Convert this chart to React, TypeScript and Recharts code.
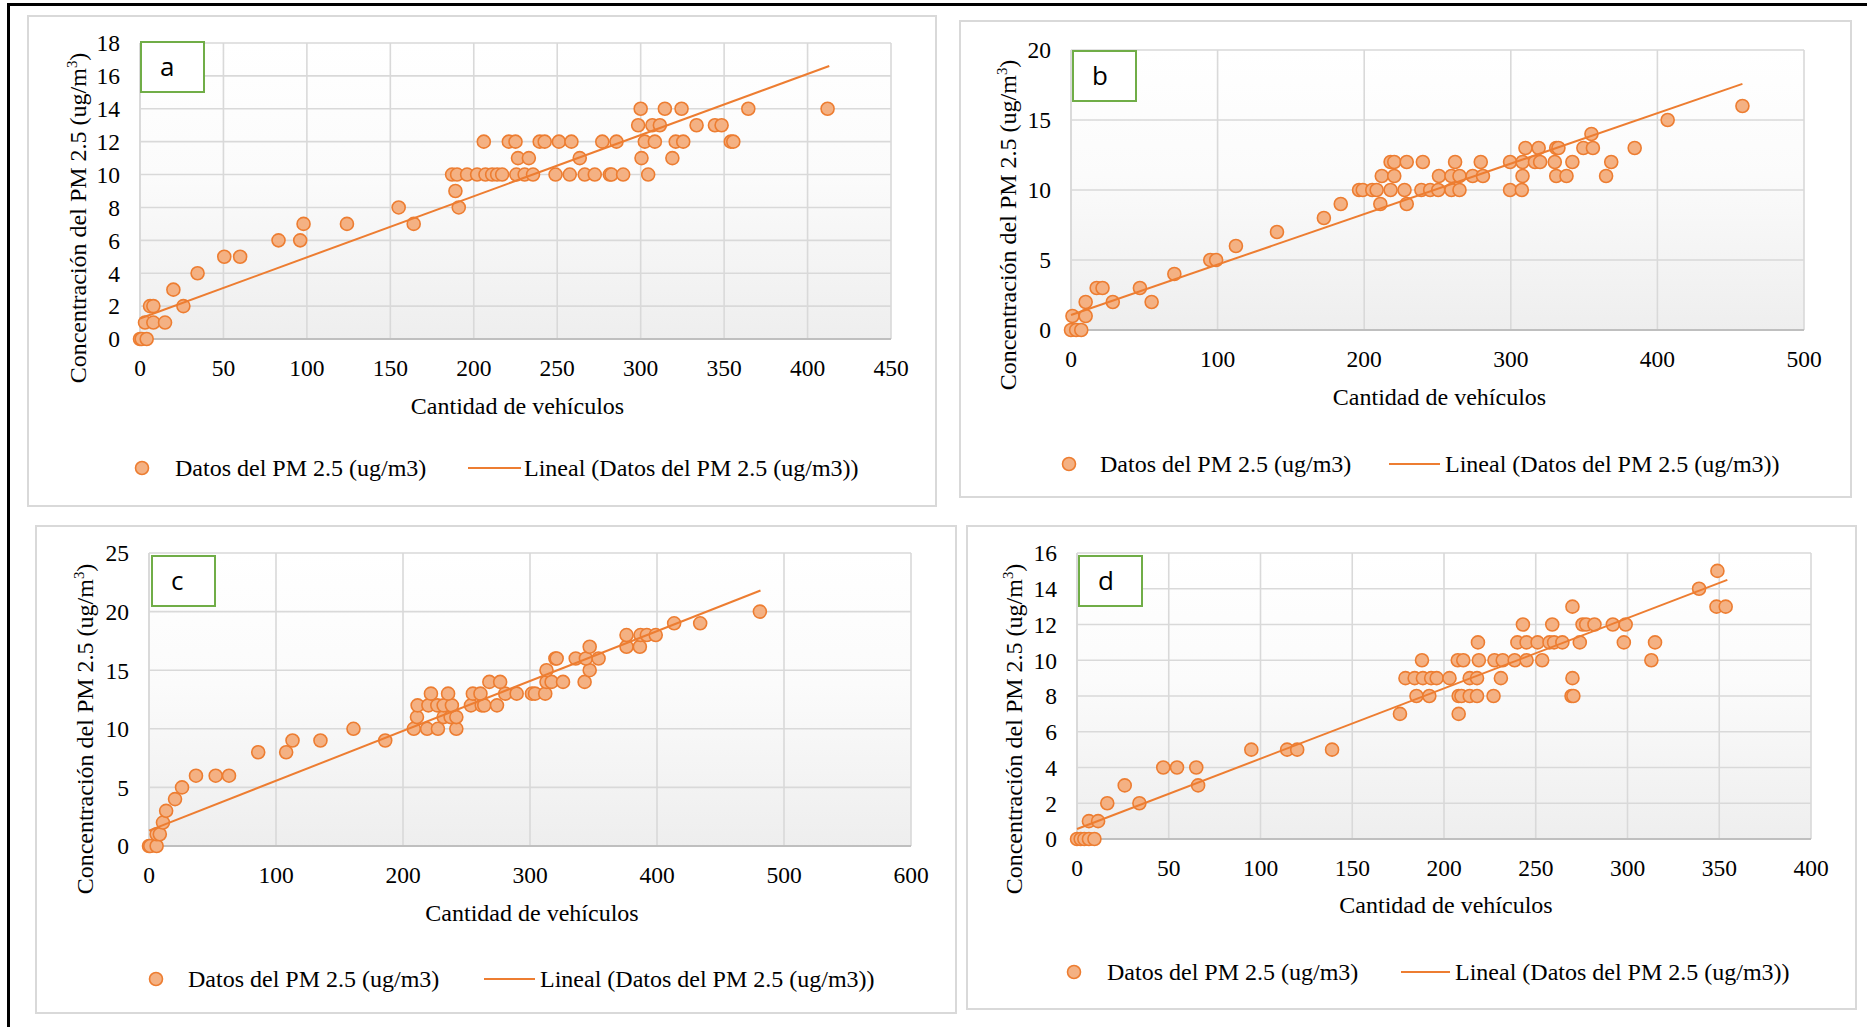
import { ScatterChart, Scatter, XAxis, YAxis, CartesianGrid } from 'recharts';

// ---- datos (x = vehículos, y = PM 2.5) ----

// panel a
const vehiculosA = [
  0, 1, 4,
  3, 8, 15,
  6, 8, 26,
  20, 34.5, 50.5, 60, 83, 96,
  98, 124, 164, 155, 191, 189,
  187, 190, 196, 202, 207, 211, 214, 217, 225.5, 230.5, 235.5, 249, 257.5, 266.5, 272.5, 281.5, 282.5, 289.5, 304.5,
  226.5, 233, 263.5, 300.5, 319,
  206, 221, 225, 239.5, 242.5, 251, 258.5, 277, 285.5, 302.5, 308.5, 321, 325.5, 354, 355.5,
  298.5, 307, 311.5, 333.5, 344.5, 348.5,
  300, 314.5, 324.5, 364.5, 412,
];
const pmA = [
  0, 0, 0,
  1, 1, 1,
  2, 2, 2,
  3, 4, 5, 5, 6, 6,
  7, 7, 7, 8, 8, 9,
  10, 10, 10, 10, 10, 10, 10, 10, 10, 10, 10, 10, 10, 10, 10, 10, 10, 10, 10,
  11, 11, 11, 11, 11,
  12, 12, 12, 12, 12, 12, 12, 12, 12, 12, 12, 12, 12, 12, 12,
  13, 13, 13, 13, 13, 13,
  14, 14, 14, 14, 14,
];
const tendXA = [0, 413];
const tendYA = [1.25, 16.6];
const xTicksA = [0, 50, 100, 150, 200, 250, 300, 350, 400, 450];
const yTicksA = [0, 2, 4, 6, 8, 10, 12, 14, 16, 18];

// panel b
const vehiculosB = [
  0, 3.5, 7,
  1, 10,
  10, 28.5, 55,
  17.5, 21.5, 47,
  70.5, 95, 99, 112.5, 140.5, 172.5,
  184, 211, 229,
  196.5, 199, 205.5, 208.5, 218, 227.5, 239, 245, 250.5, 259.5, 265, 299.5, 307.5,
  212, 220.5, 251, 259.5, 265, 274, 281, 308, 331, 338, 365,
  218, 220.5, 229, 240, 262, 279.5, 299.5, 308, 316.5, 320, 330, 342, 368.5,
  310, 319, 331, 332.5, 349.5, 356, 384.5,
  355, 407, 458,
];
const pmB = [
  0, 0, 0,
  1, 1,
  2, 2, 2,
  3, 3, 3,
  4, 5, 5, 6, 7, 8,
  9, 9, 9,
  10, 10, 10, 10, 10, 10, 10, 10, 10, 10, 10, 10, 10,
  11, 11, 11, 11, 11, 11, 11, 11, 11, 11, 11,
  12, 12, 12, 12, 12, 12, 12, 12, 12, 12, 12, 12, 12,
  13, 13, 13, 13, 13, 13, 13,
  14, 15, 16,
];
const tendXB = [0, 458];
const tendYB = [1.07, 17.58];
const xTicksB = [0, 100, 200, 300, 400, 500];
const yTicksB = [0, 5, 10, 15, 20];

// panel c
const vehiculosC = [
  0, 1, 6,
  6, 8.5, 11, 13.5, 20.5, 26,
  37, 52.5, 63, 86, 108,
  113, 135, 186,
  161, 208.5, 219, 227.5, 242,
  211, 232, 237.5, 242,
  211.5, 220, 227, 232, 238.5, 253.5, 262, 264, 274,
  222, 235.5, 255, 261, 280.5, 289.5, 301.5, 304, 312,
  268, 276.5, 313, 317, 326, 343,
  313, 347,
  320, 321, 336, 344, 354,
  347, 376, 386.5,
  376, 387, 392, 399,
  413.5, 434, 481,
];
const pmC = [
  0, 0, 0,
  1, 1, 2, 3, 4, 5,
  6, 6, 6, 8, 8,
  9, 9, 9,
  10, 10, 10, 10, 10,
  11, 11, 11, 11,
  12, 12, 12, 12, 12, 12, 12, 12, 12,
  13, 13, 13, 13, 13, 13, 13, 13, 13,
  14, 14, 14, 14, 14, 14,
  15, 15,
  16, 16, 16, 16, 16,
  17, 17, 17,
  18, 18, 18, 18,
  19, 19, 20,
];
const tendXC = [0, 481.5];
const tendYC = [1.31, 21.8];
const xTicksC = [0, 100, 200, 300, 400, 500, 600];
const yTicksC = [0, 5, 10, 15, 20, 25];

// panel d
const vehiculosD = [
  0, 2, 4, 6.5, 9.5,
  6.5, 11.5, 16.5, 34, 26, 66,
  47, 54.5, 65,
  95, 114.5, 120, 139,
  176, 208,
  185, 192, 208, 209.5, 214, 218, 227, 269.5, 270.5,
  179, 184, 188.5, 193, 196, 203, 214, 218, 231, 270,
  188, 207.5, 210.5, 219, 227.5, 232, 238.5, 245, 253.5, 313,
  218.5, 240, 245, 251, 257.5, 260, 264.5, 274, 298, 315,
  243, 259, 275.5, 277.5, 282, 292, 299,
  270, 348.5, 353.5,
  339, 349,
];
const pmD = [
  0, 0, 0, 0, 0,
  1, 1, 2, 2, 3, 3,
  4, 4, 4,
  5, 5, 5, 5,
  7, 7,
  8, 8, 8, 8, 8, 8, 8, 8, 8,
  9, 9, 9, 9, 9, 9, 9, 9, 9, 9,
  10, 10, 10, 10, 10, 10, 10, 10, 10, 10,
  11, 11, 11, 11, 11, 11, 11, 11, 11, 11,
  12, 12, 12, 12, 12, 12, 12,
  13, 13, 13,
  14, 15,
];
const tendXD = [0, 354.4];
const tendYD = [0.56, 14.5];
const xTicksD = [0, 50, 100, 150, 200, 250, 300, 350, 400];
const yTicksD = [0, 2, 4, 6, 8, 10, 12, 14, 16];

const SERIE = 'Datos del PM 2.5 (ug/m3)';
const TENDENCIA = 'Lineal (Datos del PM 2.5 (ug/m3))';

const ORANGE = '#ED7D31';
const ORANGE_FILL = '#F4B183';
const GRID = '#d9d9d9';
const SERIF = '"Liberation Serif", "Times New Roman", serif';

const zip = (xs: number[], ys: number[]) => xs.map((x, i) => ({ x, y: ys[i] }));

interface PanelProps {
  id: string;
  letter: string;
  xs: number[];
  ys: number[];
  tx: number[];
  ty: number[];
  xTicks: number[];
  yTicks: number[];
  box: { left: number; top: number; width: number; height: number };
  plot: { left: number; top: number; right: number; bottom: number };
  yTitle: { cx: number; cy: number };
  xTitleY: number;
  legend: { marker: number; cy: number; text: number; line0: number; line1: number; text2: number };
  tag: { left: number; top: number };
}

const dot = (p: any) => (
  <circle cx={p.cx} cy={p.cy} r={6.5} fill={ORANGE_FILL} stroke={ORANGE} strokeWidth={1.6} />
);

const Panel = ({ id, letter, xs, ys, tx, ty, xTicks, yTicks, box, plot, yTitle, xTitleY, legend, tag }: PanelProps) => {
  const points = zip(xs, ys);
  const trend = zip(tx, ty);
  const xMax = xTicks[xTicks.length - 1];
  const yMax = yTicks[yTicks.length - 1];
  const axisH = 40;

  return (
    <div
      style={{
        position: 'absolute',
        left: box.left,
        top: box.top,
        width: box.width,
        height: box.height,
        border: `2px solid ${GRID}`,
        boxSizing: 'border-box',
        background: '#fff',
      }}
    >
      <div style={{ position: 'absolute', left: -2, top: -2 }}>
        <ScatterChart
          width={box.width}
          height={box.height}
          margin={{
            top: plot.top,
            right: box.width - plot.right,
            bottom: box.height - plot.bottom - axisH,
            left: 0,
          }}
        >
          <defs>
            <linearGradient id={`fondo-${id}`} x1="0" y1="0" x2="0" y2="1">
              <stop offset="0%" stopColor="#ffffff" />
              <stop offset="45%" stopColor="#fbfbfb" />
              <stop offset="100%" stopColor="#eeeeee" />
            </linearGradient>
          </defs>
          <CartesianGrid stroke={GRID} strokeWidth={1.6} fill={`url(#fondo-${id})`} fillOpacity={1} />
          <XAxis
            type="number"
            dataKey="x"
            domain={[0, xMax]}
            ticks={xTicks}
            interval={0}
            height={axisH}
            tickLine={false}
            tickSize={0}
            tickMargin={20}
            axisLine={{ stroke: '#bfbfbf', strokeWidth: 2 }}
            tick={{ fill: '#000', fontSize: 23.5, fontFamily: SERIF }}
          />
          <YAxis
            type="number"
            dataKey="y"
            domain={[0, yMax]}
            ticks={yTicks}
            interval={0}
            width={plot.left}
            tickLine={false}
            tickSize={0}
            tickMargin={20}
            axisLine={{ stroke: GRID, strokeWidth: 1.6 }}
            tick={{ fill: '#000', fontSize: 23.5, fontFamily: SERIF }}
          />
          <Scatter name={SERIE} data={points} shape={dot} isAnimationActive={false} />
          <Scatter
            name={TENDENCIA}
            data={trend}
            line={{ stroke: ORANGE, strokeWidth: 2 }}
            stroke={ORANGE}
            shape={() => <g />}
            isAnimationActive={false}
          />
        </ScatterChart>
      </div>

      {/* etiqueta del panel */}
      <div
        style={{
          position: 'absolute',
          left: tag.left,
          top: tag.top,
          width: 65,
          height: 52,
          boxSizing: 'border-box',
          border: '2.5px solid #70AD47',
          background: '#fff',
          fontFamily: '"Open Sans", sans-serif',
          fontSize: 26,
          lineHeight: '46px',
          paddingLeft: 18,
          color: '#000',
        }}
      >
        {letter}
      </div>

      {/* títulos de ejes */}
      <div
        style={{
          position: 'absolute',
          left: yTitle.cx,
          top: yTitle.cy,
          transform: 'translate(-50%, -50%) rotate(-90deg)',
          whiteSpace: 'nowrap',
          fontFamily: SERIF,
          fontSize: 24,
          lineHeight: 1,
        }}
      >
        Concentración del PM 2.5 (ug/m<sup style={{ fontSize: '0.62em', lineHeight: 0 }}>3</sup>)
      </div>
      <div
        style={{
          position: 'absolute',
          left: (plot.left + plot.right) / 2,
          top: xTitleY,
          transform: 'translate(-50%, -50%)',
          whiteSpace: 'nowrap',
          fontFamily: SERIF,
          fontSize: 24,
          lineHeight: 1,
        }}
      >
        Cantidad de vehículos
      </div>

      {/* leyenda */}
      <svg
        style={{ position: 'absolute', left: legend.marker - 8, top: legend.cy - 8 }}
        width={16}
        height={16}
      >
        <circle cx={8} cy={8} r={6.5} fill={ORANGE_FILL} stroke={ORANGE} strokeWidth={1.6} />
      </svg>
      <div
        style={{
          position: 'absolute',
          left: legend.text,
          top: legend.cy,
          transform: 'translateY(-50%)',
          whiteSpace: 'nowrap',
          fontFamily: SERIF,
          fontSize: 24,
          lineHeight: 1,
        }}
      >
        {SERIE}
      </div>
      <div
        style={{
          position: 'absolute',
          left: legend.line0,
          top: legend.cy - 1,
          width: legend.line1 - legend.line0,
          height: 2,
          background: ORANGE,
        }}
      />
      <div
        style={{
          position: 'absolute',
          left: legend.text2,
          top: legend.cy,
          transform: 'translateY(-50%)',
          whiteSpace: 'nowrap',
          fontFamily: SERIF,
          fontSize: 24,
          lineHeight: 1,
        }}
      >
        {TENDENCIA}
      </div>
    </div>
  );
};

export default function App() {
  return (
    <div
      style={{
        position: 'absolute',
        left: 0,
        top: 0,
        width: 1867,
        height: 1027,
        background: '#fff',
        overflow: 'hidden',
      }}
    >
      <div
        style={{
          position: 'absolute',
          left: 7,
          top: 3,
          width: 1867,
          height: 1027,
          borderTop: '3px solid #000',
          borderLeft: '3px solid #000',
        }}
      />
      <Panel
        id="a"
        letter="a"
        xs={vehiculosA}
        ys={pmA}
        tx={tendXA}
        ty={tendYA}
        xTicks={xTicksA}
        yTicks={yTicksA}
        box={{ left: 27, top: 15, width: 910, height: 492 }}
        plot={{ left: 113, top: 28, right: 864, bottom: 324 }}
        yTitle={{ cx: 49, cy: 201 }}
        xTitleY={389}
        legend={{ marker: 113, cy: 451, text: 146, line0: 439, line1: 492, text2: 495 }}
        tag={{ left: 111, top: 24 }}
      />
      <Panel
        id="b"
        letter="b"
        xs={vehiculosB}
        ys={pmB}
        tx={tendXB}
        ty={tendYB}
        xTicks={xTicksB}
        yTicks={yTicksB}
        box={{ left: 959, top: 20, width: 893, height: 478 }}
        plot={{ left: 112, top: 30, right: 845, bottom: 310 }}
        yTitle={{ cx: 47, cy: 203 }}
        xTitleY={375}
        legend={{ marker: 108, cy: 442, text: 139, line0: 428, line1: 479, text2: 484 }}
        tag={{ left: 111, top: 28 }}
      />
      <Panel
        id="c"
        letter="c"
        xs={vehiculosC}
        ys={pmC}
        tx={tendXC}
        ty={tendYC}
        xTicks={xTicksC}
        yTicks={yTicksC}
        box={{ left: 35, top: 525, width: 922, height: 489 }}
        plot={{ left: 114, top: 28, right: 876, bottom: 321 }}
        yTitle={{ cx: 48, cy: 202 }}
        xTitleY={386}
        legend={{ marker: 119, cy: 452, text: 151, line0: 447, line1: 498, text2: 503 }}
        tag={{ left: 114, top: 28 }}
      />
      <Panel
        id="d"
        letter="d"
        xs={vehiculosD}
        ys={pmD}
        tx={tendXD}
        ty={tendYD}
        xTicks={xTicksD}
        yTicks={yTicksD}
        box={{ left: 966, top: 525, width: 891, height: 485 }}
        plot={{ left: 111, top: 28, right: 845, bottom: 314 }}
        yTitle={{ cx: 46, cy: 202 }}
        xTitleY={378}
        legend={{ marker: 106, cy: 445, text: 139, line0: 433, line1: 482, text2: 487 }}
        tag={{ left: 110, top: 28 }}
      />
    </div>
  );
}
